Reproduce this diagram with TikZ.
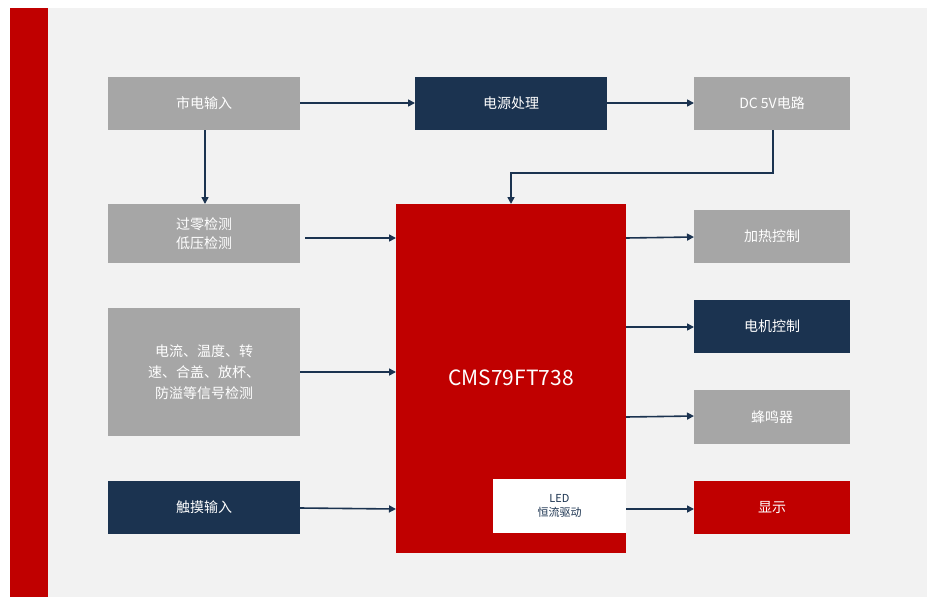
\documentclass[tikz,border=0pt]{standalone}
\usepackage{fontspec}
\setmainfont{Noto Sans CJK SC}
\usetikzlibrary{arrows.meta}
\definecolor{myred}{HTML}{C00000}
\definecolor{navy}{HTML}{1B3350}
\definecolor{gbox}{HTML}{A6A6A6}
\definecolor{bg}{HTML}{F2F2F2}
\begin{document}
\begin{tikzpicture}[x=1pt,y=-1pt,
  box/.style={draw=none,text=white,font=\fontsize{14}{17}\selectfont,align=center,inner sep=0},
  arr/.style={draw=navy,line width=1.6pt,-{Triangle[length=7pt,width=7pt]}}]
\useasboundingbox (0,0) rectangle (931,597);
\fill[white] (0,0) rectangle (931,597);
\fill[bg] (48,8) rectangle (927,597);
\fill[myred] (10,8) rectangle (48,597);
\newcommand\bx[6]{\fill[#5] (#1,#2) rectangle (#3,#4); \node[box] (#6) at ({(#1+#3)/2},{(#2+#4)/2}) {};}
\bx{108}{77}{300}{130}{gbox}{mains}
\bx{415}{77}{607}{130}{navy}{psu}
\bx{694}{77}{850}{130}{gbox}{dc}
\bx{108}{204}{300}{263}{gbox}{zero}
\bx{396}{204}{626}{553}{myred}{mcu}
\bx{108}{308}{300}{436}{gbox}{sens}
\bx{108}{481}{300}{534}{navy}{touch}
\bx{694}{210}{850}{263}{gbox}{heat}
\bx{694}{300}{850}{353}{navy}{motor}
\bx{694}{390}{850}{444}{gbox}{buzz}
\bx{694}{481}{850}{534}{myred}{disp}
\fill[white] (493,479) rectangle (626,533);
\node[box] at (mains) {市电输入};
\node[box] at (psu) {电源处理};
\node[box] at (dc) {DC 5V电路};
\node[box,font=\fontsize{14}{19}\selectfont] at (zero) {过零检测\\低压检测};
\node[box,font=\fontsize{14}{21}\selectfont] at (sens) {电流、温度、转\\速、合盖、放杯、\\防溢等信号检测};
\node[box] at (touch) {触摸输入};
\node[box] at (heat) {加热控制};
\node[box] at (motor) {电机控制};
\node[box] at (buzz) {蜂鸣器};
\node[box] at (disp) {显示};
\node[box,font=\fontsize{21}{25}\selectfont] at (511,378) {CMS79FT738};
\node[box,text=navy,font=\fontsize{11}{14}\selectfont] (led) at (559.5,506) {LED\\恒流驱动};
\coordinate (a1) at (300,103); \coordinate (a2) at (415,103);
\draw[arr] (a1) -- (a2);
\coordinate (b1) at (607,103); \coordinate (b2) at (694,103);
\draw[arr] (b1) -- (b2);
\coordinate (c1) at (773,130); \coordinate (c2) at (511,204);
\draw[arr] (c1) |- (511,173) -- (c2);
\coordinate (d1) at (205,130); \coordinate (d2) at (205,204);
\draw[arr] (d1) -- (d2);
\coordinate (e1) at (305,238); \coordinate (e2) at (396,238);
\draw[arr] (e1) -- (e2);
\coordinate (f1) at (300,372); \coordinate (f2) at (396,372);
\draw[arr] (f1) -- (f2);
\coordinate (g1) at (300,508); \coordinate (g2) at (396,509);
\draw[arr] (g1) -- (g2);
\coordinate (h1) at (626,238); \coordinate (h2) at (694,237);
\draw[arr] (h1) -- (h2);
\coordinate (i1) at (626,327); \coordinate (i2) at (694,327);
\draw[arr] (i1) -- (i2);
\coordinate (j1) at (626,417); \coordinate (j2) at (694,416);
\draw[arr] (j1) -- (j2);
\coordinate (k1) at (626,509); \coordinate (k2) at (694,509);
\draw[arr] (k1) -- (k2);
\end{tikzpicture}
\end{document}
